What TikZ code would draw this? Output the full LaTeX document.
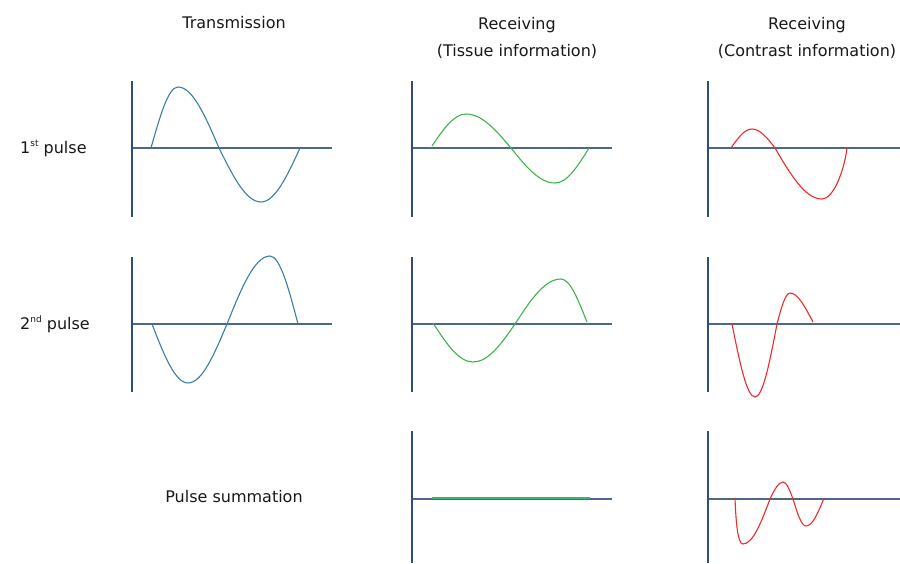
\documentclass[tikz,border=0pt]{standalone}
\usepackage{fontspec}
\setmainfont{DejaVu Sans}
\definecolor{axisv}{HTML}{2E4D78}
\definecolor{axish}{HTML}{4D6787}
\definecolor{txc}{HTML}{3A7FA0}
\definecolor{rxg}{HTML}{3CB54A}
\definecolor{rxr}{HTML}{EE2B2B}
\definecolor{sumg}{HTML}{3CB371}
\newcommand\supx[1]{\raisebox{6.5pt}{\fontsize{9}{9}\selectfont #1}}
\tikzset{
  vaxis/.style={draw=axisv,line width=1.5pt},
  haxis/.style={draw=axish,line width=1.5pt},
  txwave/.style={draw=txc,line width=1.1pt},
  gwave/.style={draw=rxg,line width=1.1pt},
  rwave/.style={draw=rxr,line width=1.1pt},
  lbl/.style={inner sep=0pt,font=\fontsize{16}{19}\selectfont,text=black!90},
}
\begin{document}
\begin{tikzpicture}[x=1pt,y=-1pt]
\useasboundingbox[fill=white] (0,0) rectangle (900,563);
% headers
\node[lbl,anchor=base] (htx) at (234,28) {Transmission};
\node[lbl,anchor=base] (hr1a) at (517,29) {Receiving};
\node[lbl,anchor=base] (hr1b) at (517,56) {(Tissue information)};
\node[lbl,anchor=base] (hr2a) at (807,29) {Receiving};
\node[lbl,anchor=base] (hr2b) at (807,56) {(Contrast information)};
% row labels
\node[lbl,anchor=base west] (p1) at (20,153) {1\supx{st} pulse};
\node[lbl,anchor=base west] (p2) at (20,329) {2\supx{nd} pulse};
\node[lbl,anchor=base] (ps) at (234,502) {Pulse summation};
% axes row 1
\coordinate (a11t) at (132,81); \coordinate (a11b) at (132,217);
\coordinate (a11l) at (132,148); \coordinate (a11r) at (332,148);
\coordinate (a12t) at (412,81); \coordinate (a12b) at (412,217);
\coordinate (a12l) at (412,148); \coordinate (a12r) at (612,148);
\coordinate (a13t) at (708,81); \coordinate (a13b) at (708,217);
\coordinate (a13l) at (708,148); \coordinate (a13r) at (900,148);
% axes row 2
\coordinate (a21t) at (132,257); \coordinate (a21b) at (132,392);
\coordinate (a21l) at (132,324); \coordinate (a21r) at (332,324);
\coordinate (a22t) at (412,257); \coordinate (a22b) at (412,392);
\coordinate (a22l) at (412,324); \coordinate (a22r) at (612,324);
\coordinate (a23t) at (708,257); \coordinate (a23b) at (708,392);
\coordinate (a23l) at (708,324); \coordinate (a23r) at (900,324);
% axes row 3
\coordinate (a32t) at (412,431); \coordinate (a32b) at (412,563);
\coordinate (a32l) at (412,499); \coordinate (a32r) at (612,499);
\coordinate (a33t) at (708,431); \coordinate (a33b) at (708,563);
\coordinate (a33l) at (708,499); \coordinate (a33r) at (900,499);
\foreach \p in {11,12,13,21,22,23,32,33}{
  \draw[haxis] (a\p l) -- (a\p r);
  \draw[vaxis] (a\p t) -- (a\p b);
}
% transmission 1st
\draw[txwave] (151,148) .. controls (159.8,116.8) and (168.2,87) .. (178,87)
  .. controls (192.8,87) and (205.6,116.8) .. (219,148)
  .. controls (232.7,175.6) and (245.8,202) .. (261,202)
  .. controls (275.1,202) and (287.3,175.6) .. (300,148);
% transmission 2nd
\draw[txwave] (152,324) .. controls (163.7,354.2) and (175,383) .. (188,383)
  .. controls (202.1,383) and (214.3,354.2) .. (227,324)
  .. controls (241,289.2) and (254.4,256) .. (270,256)
  .. controls (280.1,256) and (288.9,289.2) .. (298,324);
% tissue 1st
\draw[gwave] (432,146) .. controls (443.1,129.6) and (453.7,114) .. (466,114)
  .. controls (482.3,114) and (496.3,130.6) .. (511,148)
  .. controls (525.3,165.9) and (539.1,183) .. (555,183)
  .. controls (567.3,183) and (577.9,165.9) .. (589,148);
% tissue 2nd
\draw[gwave] (433,323) .. controls (446,343) and (458.5,362) .. (473,362)
  .. controls (488.2,362) and (501.3,344) .. (515,324)
  .. controls (530,301) and (544.3,279) .. (561,279)
  .. controls (570.4,279) and (578.5,301) .. (587,322);
% tissue sum
\draw[draw=sumg,line width=2pt] (432,497.5) -- (590,497.5);
% contrast 1st
\draw[rwave] (731,148) .. controls (737.8,138.3) and (744.4,129) .. (752,129)
  .. controls (760.3,129) and (767.5,138.3) .. (775,148)
  .. controls (790.3,174.1) and (805,199) .. (822,199)
  .. controls (833,199) and (844,172) .. (847,148);
% contrast 2nd
\draw[rwave] (732,324) .. controls (739.5,361.4) and (746.7,397) .. (755,397)
  .. controls (763,397) and (769.8,361.4) .. (777,324)
  .. controls (781.2,308.1) and (785.3,293) .. (790,293)
  .. controls (798.3,293) and (805.5,308.1) .. (813,322);
% contrast sum
\draw[rwave] (735,498) .. controls (736,525) and (738,544) .. (743,544)
  .. controls (752.8,544) and (761.2,522.5) .. (770,499)
  .. controls (774.2,490.3) and (778.3,482) .. (783,482)
  .. controls (786.6,482) and (789.7,490.3) .. (793,499)
  .. controls (797.2,512.8) and (801.3,526) .. (806,526)
  .. controls (812.5,526) and (818.1,512.8) .. (824,498);
\end{tikzpicture}
\end{document}
